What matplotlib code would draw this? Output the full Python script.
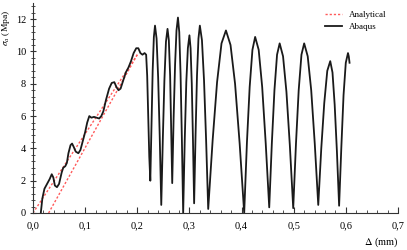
import numpy as np
import matplotlib
matplotlib.use("Agg")
import matplotlib.pyplot as plt
from matplotlib.ticker import MultipleLocator, FuncFormatter

plt.rcParams['font.family'] = ['Liberation Serif', 'DejaVu Serif']
plt.rcParams['mathtext.fontset'] = 'stix'

# Abaqus curve
abaqus_x = [0.015, 0.018, 0.022, 0.027, 0.032, 0.036, 0.039, 0.042, 0.046, 0.050,
            0.055, 0.058, 0.062, 0.065, 0.068, 0.072, 0.075, 0.078, 0.082, 0.087,
            0.091, 0.096, 0.100, 0.104, 0.108, 0.112, 0.117, 0.122, 0.127, 0.131,
            0.135, 0.140, 0.146, 0.151, 0.156, 0.160, 0.164, 0.168, 0.172, 0.178,
            0.183, 0.188, 0.193, 0.198, 0.202, 0.206, 0.210, 0.214, 0.217, 0.219,
            0.221, 0.223, 0.225,
            0.2273, 0.2295, 0.2318, 0.234, 0.237, 0.240, 0.243, 0.246,
            0.249, 0.252, 0.255, 0.258, 0.2605, 0.263, 0.265, 0.267,
            0.2697, 0.2725, 0.2752, 0.278, 0.2805, 0.283, 0.2855, 0.288,
            0.291, 0.294, 0.297, 0.300, 0.3022, 0.3045, 0.3068, 0.309,
            0.3118, 0.3145, 0.3173, 0.320, 0.324, 0.328, 0.332, 0.336,
            0.3445, 0.353, 0.3615, 0.370, 0.3788, 0.3875, 0.3963, 0.405,
            0.4103, 0.4155, 0.4208, 0.426, 0.4328, 0.4395, 0.4463, 0.453,
            0.458, 0.463, 0.468, 0.473, 0.4795, 0.486, 0.4925, 0.499,
            0.5043, 0.5095, 0.5148, 0.520, 0.5268, 0.5335, 0.5403, 0.547,
            0.5528, 0.5585, 0.5643, 0.570, 0.5743, 0.5785, 0.5828, 0.587,
            0.5913, 0.5955, 0.5998, 0.604, 0.6055, 0.607]
abaqus_y = [0.0, 0.9, 1.5, 1.8, 2.1, 2.4, 2.2, 1.7, 1.6, 1.8,
            2.5, 2.8, 2.9, 3.1, 3.7, 4.2, 4.3, 4.1, 3.8, 3.7,
            3.9, 4.5, 5.0, 5.6, 6.0, 5.9, 5.95, 5.9, 5.85, 6.0,
            6.3, 7.0, 7.7, 8.05, 8.1, 7.8, 7.6, 7.7, 8.1, 8.7,
            9.0, 9.4, 9.9, 10.2, 10.2, 9.9, 9.8, 9.9, 9.8, 8.5,
            6.0, 3.5, 2.0,
            5.6, 8.8, 10.9, 11.6, 10.8, 8.4, 4.8, 0.5,
            4.6, 8.2, 10.6, 11.4, 10.7, 8.5, 5.2, 1.85,
            5.9, 9.2, 11.3, 12.1, 11.2, 8.6, 4.6, 0.0,
            4.5, 8.1, 10.2, 11.0, 10.2, 8.0, 4.5, 0.6,
            4.9, 8.5, 10.8, 11.6, 10.7, 8.2, 4.5, 0.25,
            4.5, 8.1, 10.5, 11.3, 10.4, 8.0, 4.3, 0.0,
            4.4, 7.8, 10.1, 10.9, 10.1, 7.8, 4.3, 0.35,
            4.3, 7.6, 9.8, 10.5, 9.7, 7.5, 4.2, 0.3,
            4.3, 7.6, 9.8, 10.5, 9.7, 7.6, 4.3, 0.5,
            4.0, 6.8, 8.8, 9.4, 8.7, 6.7, 3.8, 0.45,
            4.1, 7.3, 9.3, 9.9, 9.7, 9.3]

# Analytical lines
ana1_x = [0.0, 0.2]
ana1_y = [0.0, 9.8]
ana2_x = [0.03, 0.2]
ana2_y = [0.0, 9.8]

fig = plt.figure(figsize=(4.07, 2.5), dpi=100)
ax = fig.add_axes([0.081, 0.148, 0.897, 0.84])

ax.plot(ana1_x, ana1_y, color='#ff5a5a', lw=1.0, ls=(0, (1.6, 1.4)), label='Analytical')
ax.plot(ana2_x, ana2_y, color='#ff5a5a', lw=1.0, ls=(0, (1.6, 1.4)))
ax.plot(abaqus_x, abaqus_y, color='#1a1a1a', lw=1.3, label='Abaqus')

ax.set_xlim(0, 0.7)
ax.set_ylim(0, 13)
ax.spines['top'].set_visible(False)
ax.spines['right'].set_visible(False)
ax.spines['left'].set_color('#333333')
ax.spines['bottom'].set_color('#333333')

ax.xaxis.set_major_locator(MultipleLocator(0.1))
ax.xaxis.set_minor_locator(MultipleLocator(0.02))
ax.yaxis.set_major_locator(MultipleLocator(2))
ax.yaxis.set_minor_locator(MultipleLocator(0.4))
ax.xaxis.set_major_formatter(FuncFormatter(lambda v, p: ('%.1f' % v).replace('.', ',')))
ax.tick_params(axis='x', which='major', direction='in', length=4, labelsize=7.5, pad=6, color='#333333')
ax.tick_params(axis='x', which='minor', direction='in', length=2.5, color='#333333')
ax.tick_params(axis='y', which='major', direction='inout', length=4, labelsize=7.5, pad=3, color='#333333')
ax.tick_params(axis='y', which='minor', direction='inout', length=2.5, color='#333333')

ax.set_ylabel(r'$\sigma_a$ (Mpa)', fontsize=6.8)
ax.yaxis.set_label_coords(-0.057, 0.88)
ax.set_xlabel(r'$\Delta$ (mm)', fontsize=7.5)
ax.xaxis.set_label_coords(0.955, -0.105)

ax.legend(loc='upper right', bbox_to_anchor=(0.99, 1.0), frameon=False, fontsize=6.5,
          handlelength=1.8, labelspacing=0.4)

fig.savefig('out.png', dpi=100)
